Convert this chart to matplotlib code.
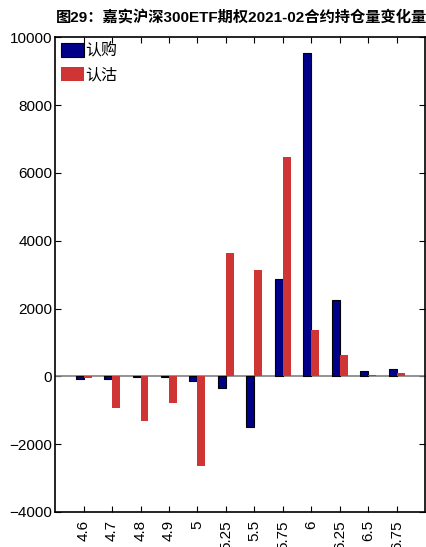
import matplotlib
matplotlib.use("Agg")
import matplotlib.pyplot as plt
import numpy as np

strikes = ["4.6", "4.7", "4.8", "4.9", "5", "5.25", "5.5", "5.75", "6", "6.25", "6.5", "6.75"]
call_change = [-90, -75, -15, -15, -150, -350, -1480, 2860, 9520, 2240, 145, 215]
put_change = [-45, -945, -1305, -800, -2630, 3635, 3145, 6460, 1355, 628, 30, 108]
legend_labels = ["认购", "认沽"]
title = "图29：嘉实沪深300ETF期权2021-02合约持仓量变化量"

plt.rcParams['font.family'] = ['Liberation Sans', 'Noto Sans CJK SC']

fig = plt.figure(figsize=(4.27, 5.47), dpi=100)
ax = fig.add_axes([0.129, 0.064, 0.867, 0.868])

x = np.arange(len(strikes))
w = 0.28
ax.bar(x - w / 2, call_change, width=w, color="#000088", edgecolor="black", linewidth=0.8,
       label=legend_labels[0], zorder=3)
ax.bar(x + w / 2, put_change, width=w, color="#D03535", edgecolor="none",
       label=legend_labels[1], zorder=3)
ax.axhline(0, color="#808080", linewidth=1.2, zorder=2)

ax.set_xlim(-1, 12)
ax.set_ylim(-4000, 10000)
ax.set_yticks(np.arange(-4000, 10001, 2000))
ax.set_xticks(x)
ax.set_xticklabels(strikes, rotation=90, fontsize=11)
ax.tick_params(axis='y', labelsize=11, direction='in', right=True, length=4, pad=2)
ax.tick_params(axis='x', direction='in', top=True, length=4, pad=6)
for s in ax.spines.values():
    s.set_linewidth(1.2)

leg = ax.legend(loc='upper left', frameon=False, handlelength=1.45,
                handleheight=0.95, handletextpad=0.1, labelspacing=0.4,
                borderaxespad=0.0, borderpad=0.35,
                prop={'family': ['Noto Sans CJK SC'], 'size': 11.5})

fig.text(0.565, 0.967, title, ha='center', va='center', fontsize=11, fontweight='bold')

fig.savefig("out.png", dpi=100)
